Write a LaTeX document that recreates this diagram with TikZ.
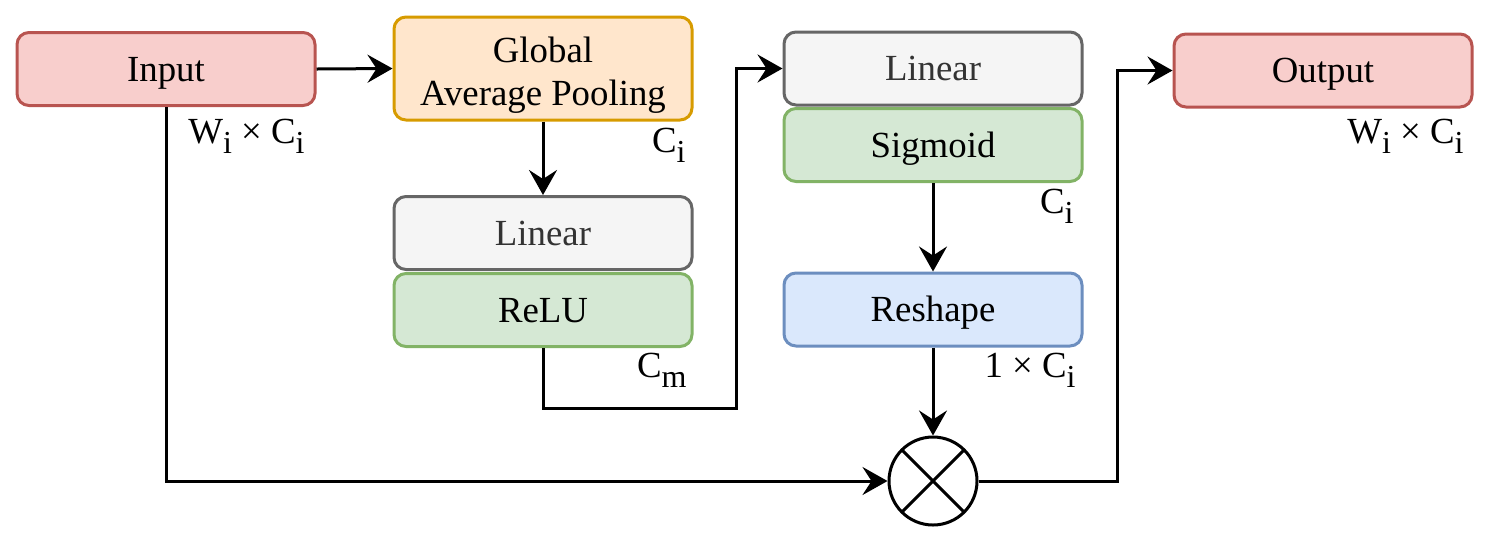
\documentclass[tikz,border=0pt]{standalone}
\usepackage{fontspec}
\setmainfont{Liberation Serif}
\usetikzlibrary{arrows.meta,positioning}
\definecolor{redfill}{HTML}{F8CECC}\definecolor{redline}{HTML}{B85450}
\definecolor{orfill}{HTML}{FFE6CC}\definecolor{orline}{HTML}{D79B00}
\definecolor{grfill}{HTML}{F5F5F5}\definecolor{grline}{HTML}{666666}\definecolor{grtext}{HTML}{333333}
\definecolor{gnfill}{HTML}{D5E8D4}\definecolor{gnline}{HTML}{82B366}
\definecolor{blfill}{HTML}{DAE8FC}\definecolor{blline}{HTML}{6C8EBF}
\newcommand{\mysub}[1]{\raisebox{-5pt}{\fontsize{16}{16}\selectfont #1}}
\tikzset{
  box/.style={draw, line width=1.5pt, rounded corners=6pt, minimum width=149pt, minimum height=36.5pt, inner sep=0pt, align=center, text height=15pt, text depth=3pt, font=\fontsize{18.4}{21.5}\selectfont},
  redbox/.style={box, fill=redfill, draw=redline},
  orbox/.style={box, fill=orfill, draw=orline, minimum height=51.5pt, text height=40pt, text depth=3.5pt},
  grbox/.style={box, fill=grfill, draw=grline, text=grtext},
  gnbox/.style={box, fill=gnfill, draw=gnline},
  blbox/.style={box, fill=blfill, draw=blline},
  dimlabel/.style={anchor=base east, inner sep=0pt, font=\fontsize{18.4}{22}\selectfont},
  conn/.style={line width=1.5pt, -{Stealth[length=12.5pt, width=14pt, inset=4.5pt]}},
}
\begin{document}
\begin{tikzpicture}[x=0.5pt, y=-0.5pt]
\useasboundingbox (0,0) rectangle (1491,543);
\node[redbox] (input) at (166,69) {Input};
\node[orbox] (gap) at (543,68.5) {Global\\Average Pooling};
\node[grbox] (lin1) at (543,233) {Linear};
\node[gnbox] (relu) at (543,310) {ReLU};
\node[grbox] (lin2) at (933,68.5) {Linear};
\node[gnbox] (sig) at (933,145) {Sigmoid};
\node[blbox] (resh) at (933,309.5) {Reshape};
\node[redbox] (output) at (1323,70.5) {Output};
\node[draw, circle, line width=1.5pt, minimum size=44pt, inner sep=0pt,
  path picture={\draw[line width=1.5pt] (path picture bounding box.north west) -- (path picture bounding box.south east)
    (path picture bounding box.north east) -- (path picture bounding box.south west);}] (mul) at (933,481) {};

\coordinate (c1) at (543,408);
\coordinate (c2) at (736,408);
\coordinate (c3) at (736,68.5);
\coordinate (c4) at (166,481);
\coordinate (c5) at (1117,481);
\coordinate (c6) at (1117,70.5);

\draw[conn] (input.east) -- (gap.west);
\draw[conn] (gap.south) -- (lin1.north);
\draw[conn] (relu.south) -- (c1) -- (c2) -- (c3) -- (lin2.west);
\draw[conn] (sig.south) -- (resh.north);
\draw[conn] (resh.south) -- (mul.north);
\draw[conn] (input.south) -- (c4) -- (mul.west);
\draw[conn] (mul.east) -- (c5) -- (c6) -- (output.west);

\node[dimlabel] (l1) at (305,143) {W\mysub{i} × C\mysub{i}};
\node[dimlabel] (l2) at (686,152) {C\mysub{i}};
\node[dimlabel] (l3) at (687,377) {C\mysub{m}};
\node[dimlabel] (l4) at (1074,213) {C\mysub{i}};
\node[dimlabel] (l5) at (1076,377) {1 × C\mysub{i}};
\node[dimlabel] (l6) at (1464,143) {W\mysub{i} × C\mysub{i}};
\end{tikzpicture}
\end{document}
